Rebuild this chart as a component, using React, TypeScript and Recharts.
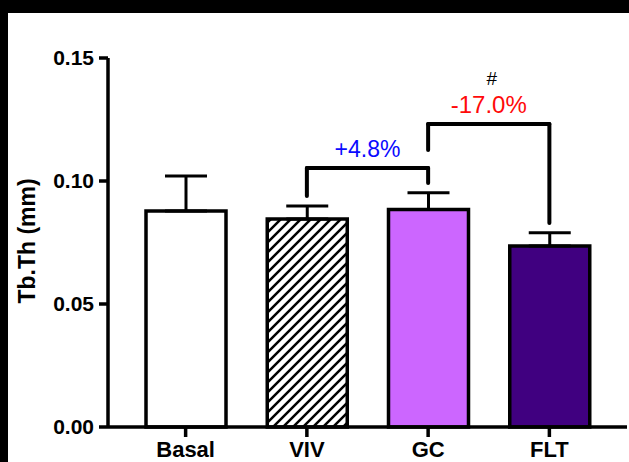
import { Bar, BarChart, Cell, ErrorBar, Label, ReferenceLine, XAxis, YAxis } from "recharts";

const groups = ["Basal", "VIV", "GC", "FLT"];
const means = [0.0878, 0.0846, 0.0884, 0.0736];
const sds = [0.0142, 0.0052, 0.0068, 0.0054];
const fills = ["#ffffff", "url(#hatch)", "#cc66ff", "#400080"];
const yTicks = [0, 0.05, 0.1, 0.15];

// comparison brackets: from, to, top of bracket, left leg end, right leg end
const bracketFrom = ["VIV", "GC"];
const bracketTo = ["GC", "FLT"];
const bracketTop = [0.1053, 0.1232];
const bracketLeft = [0.0939, 0.1126];
const bracketRight = [0.0992, 0.0829];
const bracketText = ["+4.8%", "-17.0%"];
const bracketColor = ["#0a0aff", "#ff0a0a"];
const bracketMark = ["", "#"];

const data = groups.map((g, i) => ({ name: g, value: means[i], err: [0, sds[i]] }));

const font = "'Liberation Sans', Arial, sans-serif";
const seg = { stroke: "#000", strokeWidth: 4, strokeLinecap: "round" as const };
const axisStroke = { stroke: "#000", strokeWidth: 3.5 };

export default function App() {
  return (
    <div style={{ position: "fixed", left: 0, top: 0, width: 629, height: 462, background: "#000" }}>
      <div style={{ position: "absolute", left: 8, top: 13, right: 0, bottom: 0, background: "#fff" }} />
      <div style={{ position: "absolute", left: 0, top: 0 }}>
        <BarChart
          width={629}
          height={462}
          data={data}
          barSize={80}
          margin={{ top: 58, right: 2, bottom: 0, left: 0 }}
          style={{ fontFamily: font }}
        >
          <defs>
            <pattern id="hatch" patternUnits="userSpaceOnUse" width={10} height={10}>
              <rect width={10} height={10} fill="#fff" />
              <path d="M-1,1 l2,-2 M0,10 l10,-10 M9,11 l2,-2" stroke="#000" strokeWidth={2.5} />
            </pattern>
          </defs>
          <XAxis
            dataKey="name"
            height={35}
            padding={{ left: 17, right: 17 }}
            axisLine={axisStroke}
            tickLine={axisStroke}
            tickSize={10}
            tickMargin={4}
            tick={{ fill: "#000", fontSize: 22, fontWeight: 700 }}
          />
          <YAxis
            width={108}
            domain={[0, 0.15]}
            ticks={yTicks}
            interval={0}
            axisLine={axisStroke}
            tickLine={axisStroke}
            tickSize={9}
            tickMargin={5}
            tickFormatter={(v: number) => v.toFixed(2)}
            tick={{ fill: "#000", fontSize: 21, fontWeight: 700 }}
            label={{
              content: () => (
                <text
                  x={35}
                  y={241}
                  transform="rotate(-90, 35, 241)"
                  textAnchor="middle"
                  fontSize={23}
                  fontWeight={700}
                  fill="#000"
                  fontFamily={font}
                >
                  Tb.Th (mm)
                </text>
              ),
            }}
          />
          <Bar dataKey="value" stroke="#000" strokeWidth={3.5} isAnimationActive={false}>
            {data.map((d, i) => (
              <Cell key={d.name} fill={fills[i]} />
            ))}
            <ErrorBar dataKey="err" direction="y" width={21} stroke="#000" strokeWidth={3} isAnimationActive={false} />
          </Bar>
          {bracketFrom.map((from, i) => [
            <ReferenceLine
              key={`l${i}`}
              segment={[{ x: from, y: bracketLeft[i] }, { x: from, y: bracketTop[i] }]}
              {...seg}
            />,
            <ReferenceLine
              key={`r${i}`}
              segment={[{ x: bracketTo[i], y: bracketRight[i] }, { x: bracketTo[i], y: bracketTop[i] }]}
              {...seg}
            />,
            <ReferenceLine
              key={`t${i}`}
              segment={[{ x: from, y: bracketTop[i] }, { x: bracketTo[i], y: bracketTop[i] }]}
              {...seg}
            >
              <Label value={bracketText[i]} position="top" offset={11} fill={bracketColor[i]} fontSize={i ? 24 : 23} fontFamily={font} />
              {bracketMark[i] ? (
                <Label value={bracketMark[i]} position="top" offset={39} dx={3} fill="#000" fontSize={19} fontFamily={font} />
              ) : null}
            </ReferenceLine>,
          ])}
        </BarChart>
      </div>
    </div>
  );
}
